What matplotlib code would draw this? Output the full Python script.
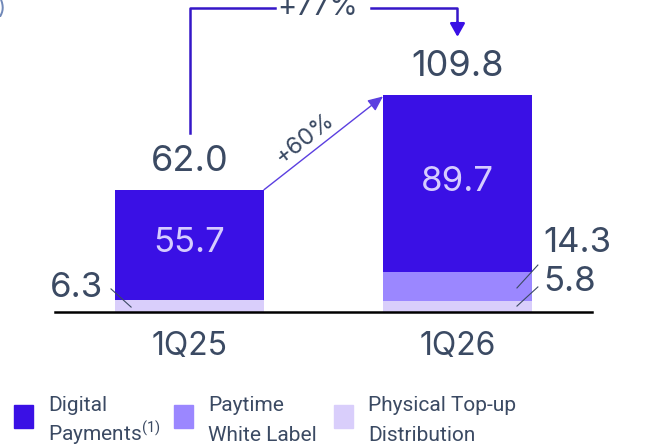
import matplotlib.pyplot as plt
from matplotlib.patches import Rectangle

plt.rcParams['font.family'] = ['Inter', 'DejaVu Sans']

quarters = ["1Q25", "1Q26"]
digital = [55.7, 89.7]
paytime = [0.0, 14.3]
physical = [6.3, 5.8]
totals = [62.0, 109.8]
growth_digital = "+60%"
growth_total = "+77%"

legend_lines = [("Digital", r"Payments$\mathregular{^{(1)}}$"),
                ("Paytime", "White Label"),
                ("Physical Top-up", "Distribution")]
c_digital = "#3A10E5"
c_paytime = "#9B87FF"
c_physical = "#D9CEFB"
c_text = "#3B4A63"
c_inner = "#D6CCFF"

fig = plt.figure(figsize=(6.49, 4.47), dpi=100)
# axes spans the baseline; y scale ~1.97 px per unit
ax = fig.add_axes([55 / 649, 1 - 312 / 447, 537 / 649, 312 / 447])
ax.set_xlim(-0.502, 1.502)
ax.set_ylim(0, 158.2)
ax.axis("off")

x = [0, 1]
w = 0.556
ax.bar(x, physical, w, color=c_physical, zorder=2)
ax.bar(x, paytime, w, bottom=physical, color=c_paytime, zorder=2)
base = [p + q for p, q in zip(physical, paytime)]
ax.bar(x, digital, w, bottom=base, color=c_digital, zorder=2)
ax.plot([-0.502, 1.502], [0, 0], color="black", lw=1.8, zorder=3, clip_on=False)

for i in range(2):
    ax.text(x[i], totals[i] + 14.5, f"{totals[i]:.1f}", ha="center", va="center",
            fontsize=26, color=c_text)
    ax.text(x[i], base[i] + digital[i] / 2 + 1, f"{digital[i]:.1f}", ha="center", va="center",
            fontsize=25, color=c_inner)
    ax.text(x[i], -17.5, quarters[i], ha="center", va="center", fontsize=23, color=c_text,
            clip_on=False)

# small segment labels with leader lines
ax.text(-0.323, 12.2, f"{physical[0]:.1f}", ha="right", va="center", fontsize=25, color=c_text)
ax.plot([-0.293, -0.218], [11.7, 2.5], color="#3B4A63", lw=0.8)
ax.text(1.319, 35.0, f"{paytime[1]:.1f}", ha="left", va="center", fontsize=25, color=c_text)
ax.plot([1.300, 1.222], [23.8, 12.2], color="#3B4A63", lw=0.8)
ax.text(1.319, 15.2, f"{physical[1]:.1f}", ha="left", va="center", fontsize=25, color=c_text)
ax.plot([1.300, 1.222], [12.7, 3.0], color="#3B4A63", lw=0.8)

# digital growth arrow between bar tops
ax.annotate("", xy=(1 - w / 2, totals[1] - 0.5), xytext=(w / 2, totals[0]),
            arrowprops=dict(arrowstyle="-|>,head_length=0.9,head_width=0.4",
                            color="#5B3FE0", lw=1.0, shrinkA=0, shrinkB=0))
ax.text(0.431, 88, growth_digital, ha="center", va="center", rotation=38,
        fontsize=17, color=c_text)

# total growth bracket
ytop = 154.2
lc = "#3517C8"
ax.plot([0, 0, 0.319], [90.8, ytop, ytop], color=lc, lw=1.8, clip_on=False)
ax.plot([0.677, 1.0, 1.0], [ytop, ytop, 146], color=lc, lw=1.8, clip_on=False)
ax.annotate("", xy=(1.0, 139.5), xytext=(1.0, 147),
            arrowprops=dict(arrowstyle="-|>,head_length=0.8,head_width=0.45",
                            color=c_digital, lw=1.8, shrinkA=0, shrinkB=0),
            annotation_clip=False)
ax.text(0.479, ytop, growth_total, ha="center", va="center", fontsize=21, color=c_text,
        clip_on=False)

fig.text(2 / 649, 1 - 8 / 447, ")", ha="center", va="center", fontsize=16, color="#7088B8")

# legend
sq_x = [14, 174, 334]
tx_x = [48, 208, 368]
for cx, tx, col, (l1, l2) in zip(sq_x, tx_x, [c_digital, c_paytime, c_physical], legend_lines):
    fig.patches.append(Rectangle((cx / 649, 1 - 428 / 447), 19 / 649, 23 / 447,
                                 transform=fig.transFigure, color=col))
    for txt, yb in [(l1, 411), (l2, 441)]:
        fig.text(tx / 649, 1 - yb / 447, txt, ha="left", va="baseline", fontsize=15,
                 family=["Roboto", "DejaVu Sans"], color=c_text)

fig.savefig("out.png", dpi=100)
